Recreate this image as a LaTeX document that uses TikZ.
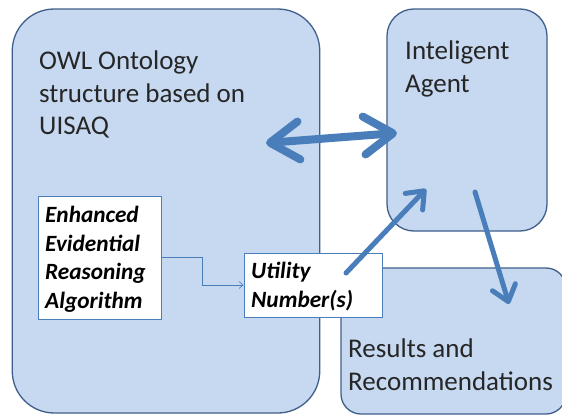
\documentclass[tikz,border=0pt]{standalone}
\usepackage{fontspec}
\setmainfont{Carlito}
\usetikzlibrary{arrows.meta}
\definecolor{boxfill}{HTML}{C6D9F1}
\definecolor{boxline}{HTML}{3F5F8A}
\definecolor{arrowblue}{HTML}{4A7EBB}
\tikzset{
  bigbox/.style={draw=boxline, fill=boxfill, line width=1.3pt, inner sep=0pt},
  whitebox/.style={draw=arrowblue, fill=white, line width=1pt, inner sep=0pt},
  bigtext/.style={anchor=north west, align=left, inner sep=0pt, text=black!85,
    font=\fontsize{27}{32.5}\selectfont},
  smalltext/.style={anchor=north west, align=left, inner sep=0pt, text=black,
    font=\fontsize{23.3}{28.5}\selectfont\bfseries\itshape},
  fatarrow/.style={draw=arrowblue, line width=8pt, line cap=round,
    {Straight Barb[length=29pt,width=38pt,round]}-{Straight Barb[length=29pt,width=38pt,round]}},
  midarrow/.style={draw=arrowblue, line width=5pt, line cap=round,
    -{Straight Barb[length=15pt,width=24pt,round]}},
  thinarrow/.style={draw=arrowblue, line width=0.6pt, -{Straight Barb[length=4pt,width=7pt]}}
}
\begin{document}
\begin{tikzpicture}[x=1pt,y=-1pt]
\useasboundingbox (0,0) rectangle (562,415);
\clip (0,0) rectangle (562,415);
\fill[white] (0,0) rectangle (562,415);
% big boxes
\node[bigbox, rounded corners=42pt, minimum width=307.5pt, minimum height=404pt] (owl) at (166,211) {};
\node[bigbox, rounded corners=27pt, minimum width=160pt, minimum height=222pt] (agent) at (467,120) {};
\node[bigbox, rounded corners=20pt, minimum width=225pt, minimum height=146pt] (results) at (453.5,341) {};
% texts
\node[bigtext] (owltext) at (39,51) {OWL Ontology\\structure based on\\UISAQ};
\node[bigtext] (agenttext) at (405,41) {Inteligent\\Agent};
\node[bigtext] (restext) at (348,339) {Results and\\Recommendations};
% white boxes
\node[whitebox, minimum width=123pt, minimum height=123pt] (enh) at (99.5,257.5) {};
\node[smalltext] (enhtext) at (45,206) {Enhanced\\Evidential\\Reasoning\\Algorithm};
\node[whitebox, minimum width=138pt, minimum height=64pt] (util) at (313,285) {};
\node[smalltext] (utiltext) at (251,262) {Utility\\Number(s)};
% connectors
\coordinate (dl) at (266,143);
\coordinate (dr) at (397,133);
\draw[fatarrow] (dl) -- (dr);
\coordinate (ustart) at (346,273);
\coordinate (uend) at (426,189);
\draw[midarrow] (ustart) -- (uend);
\coordinate (dstart) at (475,192);
\coordinate (dend) at (509,304);
\draw[midarrow] (dstart) -- (dend);
\draw[thinarrow] (enh.east |- 0,257) -| (202,285) -- (util.west |- 0,285);
\end{tikzpicture}
\end{document}
